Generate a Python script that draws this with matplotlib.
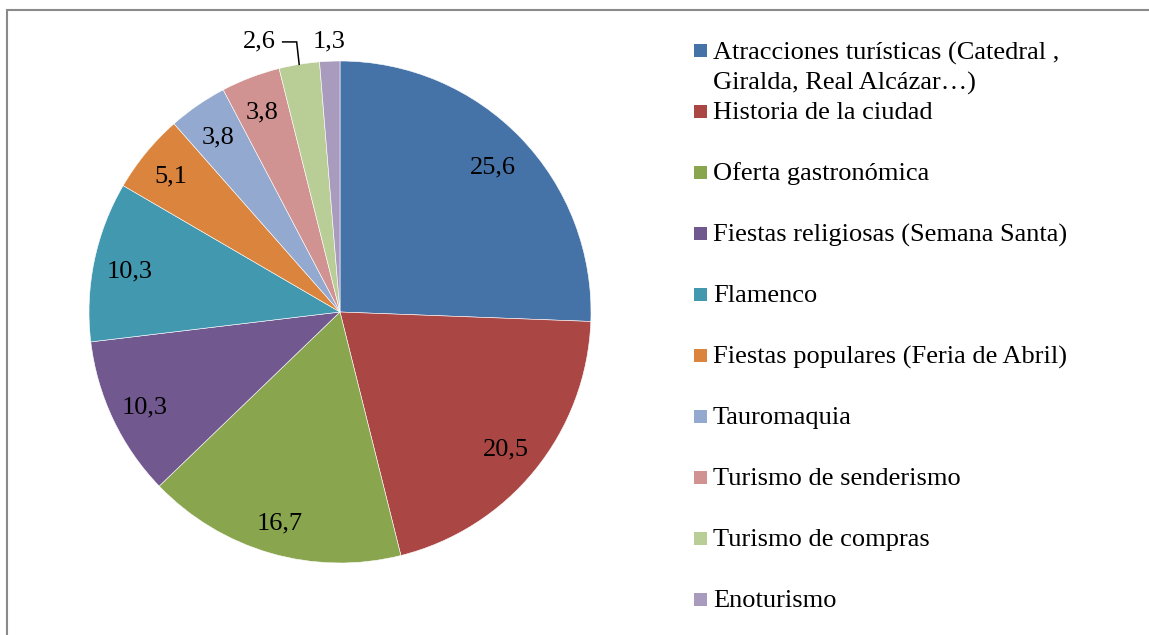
import matplotlib
matplotlib.use("Agg")
import matplotlib.pyplot as plt
from matplotlib.patches import Rectangle
import numpy as np

categories = [
    "Atracciones turísticas (Catedral ,\nGiralda, Real Alcázar…)",
    "Historia de la ciudad",
    "Oferta gastronómica",
    "Fiestas religiosas (Semana Santa)",
    "Flamenco",
    "Fiestas populares (Feria de Abril)",
    "Tauromaquia",
    "Turismo de senderismo",
    "Turismo de compras",
    "Enoturismo",
]
values = [25.6, 20.5, 16.7, 10.3, 10.3, 5.1, 3.8, 3.8, 2.6, 1.3]
value_labels = ["25,6", "20,5", "16,7", "10,3", "10,3", "5,1", "3,8", "3,8", "2,6", "1,3"]

colors = ["#4572A7", "#AA4643", "#89A54E", "#71588F", "#4198AF",
          "#DB843D", "#93A9CF", "#D19392", "#B9CD96", "#A99BBD"]
# label placement style: radius fraction (None = outside with leader line)
label_r = [0.845, 0.85, 0.865, 0.86, 0.857, 0.87, 0.857, 0.865, None, 1.09]

plt.rcParams['font.family'] = ['Liberation Serif', 'DejaVu Serif']
FS = 19

W, H = 1149, 635
fig = plt.figure(figsize=(W / 100, H / 100), dpi=100)
EM = FS * 100 / 72.0  # px
DIGIT_MID = 0.338 * EM  # digit centre above baseline (px)

# pie axes
cx, cy, r = 340, 312, 251
ax = fig.add_axes([(cx - r) / W, (H - cy - r) / H, 2 * r / W, 2 * r / H])
wedges, _ = ax.pie(values, colors=colors, startangle=90, counterclock=False,
                   radius=1.0, wedgeprops=dict(edgecolor='white', linewidth=0.4))
ax.set_xlim(-1, 1)
ax.set_ylim(-1, 1)
ax.set_aspect('equal')
ax.axis('off')

dm = DIGIT_MID / r  # in data units

for i, w in enumerate(wedges):
    mid = np.deg2rad((w.theta1 + w.theta2) / 2)
    c, s = np.cos(mid), np.sin(mid)
    if label_r[i] is None:
        p0 = (c * 1.0, s * 1.0)
        p1 = (c * 1.0 - 0.01, 1.076)
        p2 = (p1[0] - 0.056, 1.076)
        ax.plot([p0[0], p1[0], p2[0]], [p0[1], p1[1], p2[1]], color='black',
                lw=1.1, clip_on=False, solid_joinstyle='miter')
        ax.text(p2[0] - 0.027, 1.09 - dm, value_labels[i], ha='right', va='baseline',
                fontsize=FS, clip_on=False)
    else:
        rr = label_r[i]
        ax.text(c * rr, s * rr - dm, value_labels[i], ha='center', va='baseline',
                fontsize=FS, clip_on=False)

# legend drawn manually
sq = 13
x_sq = 694
x_txt = 713
step = 61.0
for i, (cat, col) in enumerate(zip(categories, colors)):
    if i == 0:
        yc, yb0 = 50.0, 60.0
    else:
        yc = 111.7 + (i - 1) * step
        yb0 = yc + 7.6
    fig.add_artist(Rectangle((x_sq / W, (H - yc - sq / 2) / H), sq / W, sq / H,
                             transform=fig.transFigure, facecolor=col, edgecolor='none'))
    for j, ln in enumerate(cat.split("\n")):
        yb = yb0 + j * 29.7
        fig.text(x_txt / W, (H - yb) / H, ln, ha='left', va='baseline', fontsize=FS)

# outer frame
fig.add_artist(Rectangle((6.5 / W, -0.05), 1.2, (H - 9.5) / H + 0.05,
                         transform=fig.transFigure, facecolor='none',
                         edgecolor='#8a8a8a', linewidth=1.5, clip_on=False))

fig.savefig("out.png", dpi=100)
